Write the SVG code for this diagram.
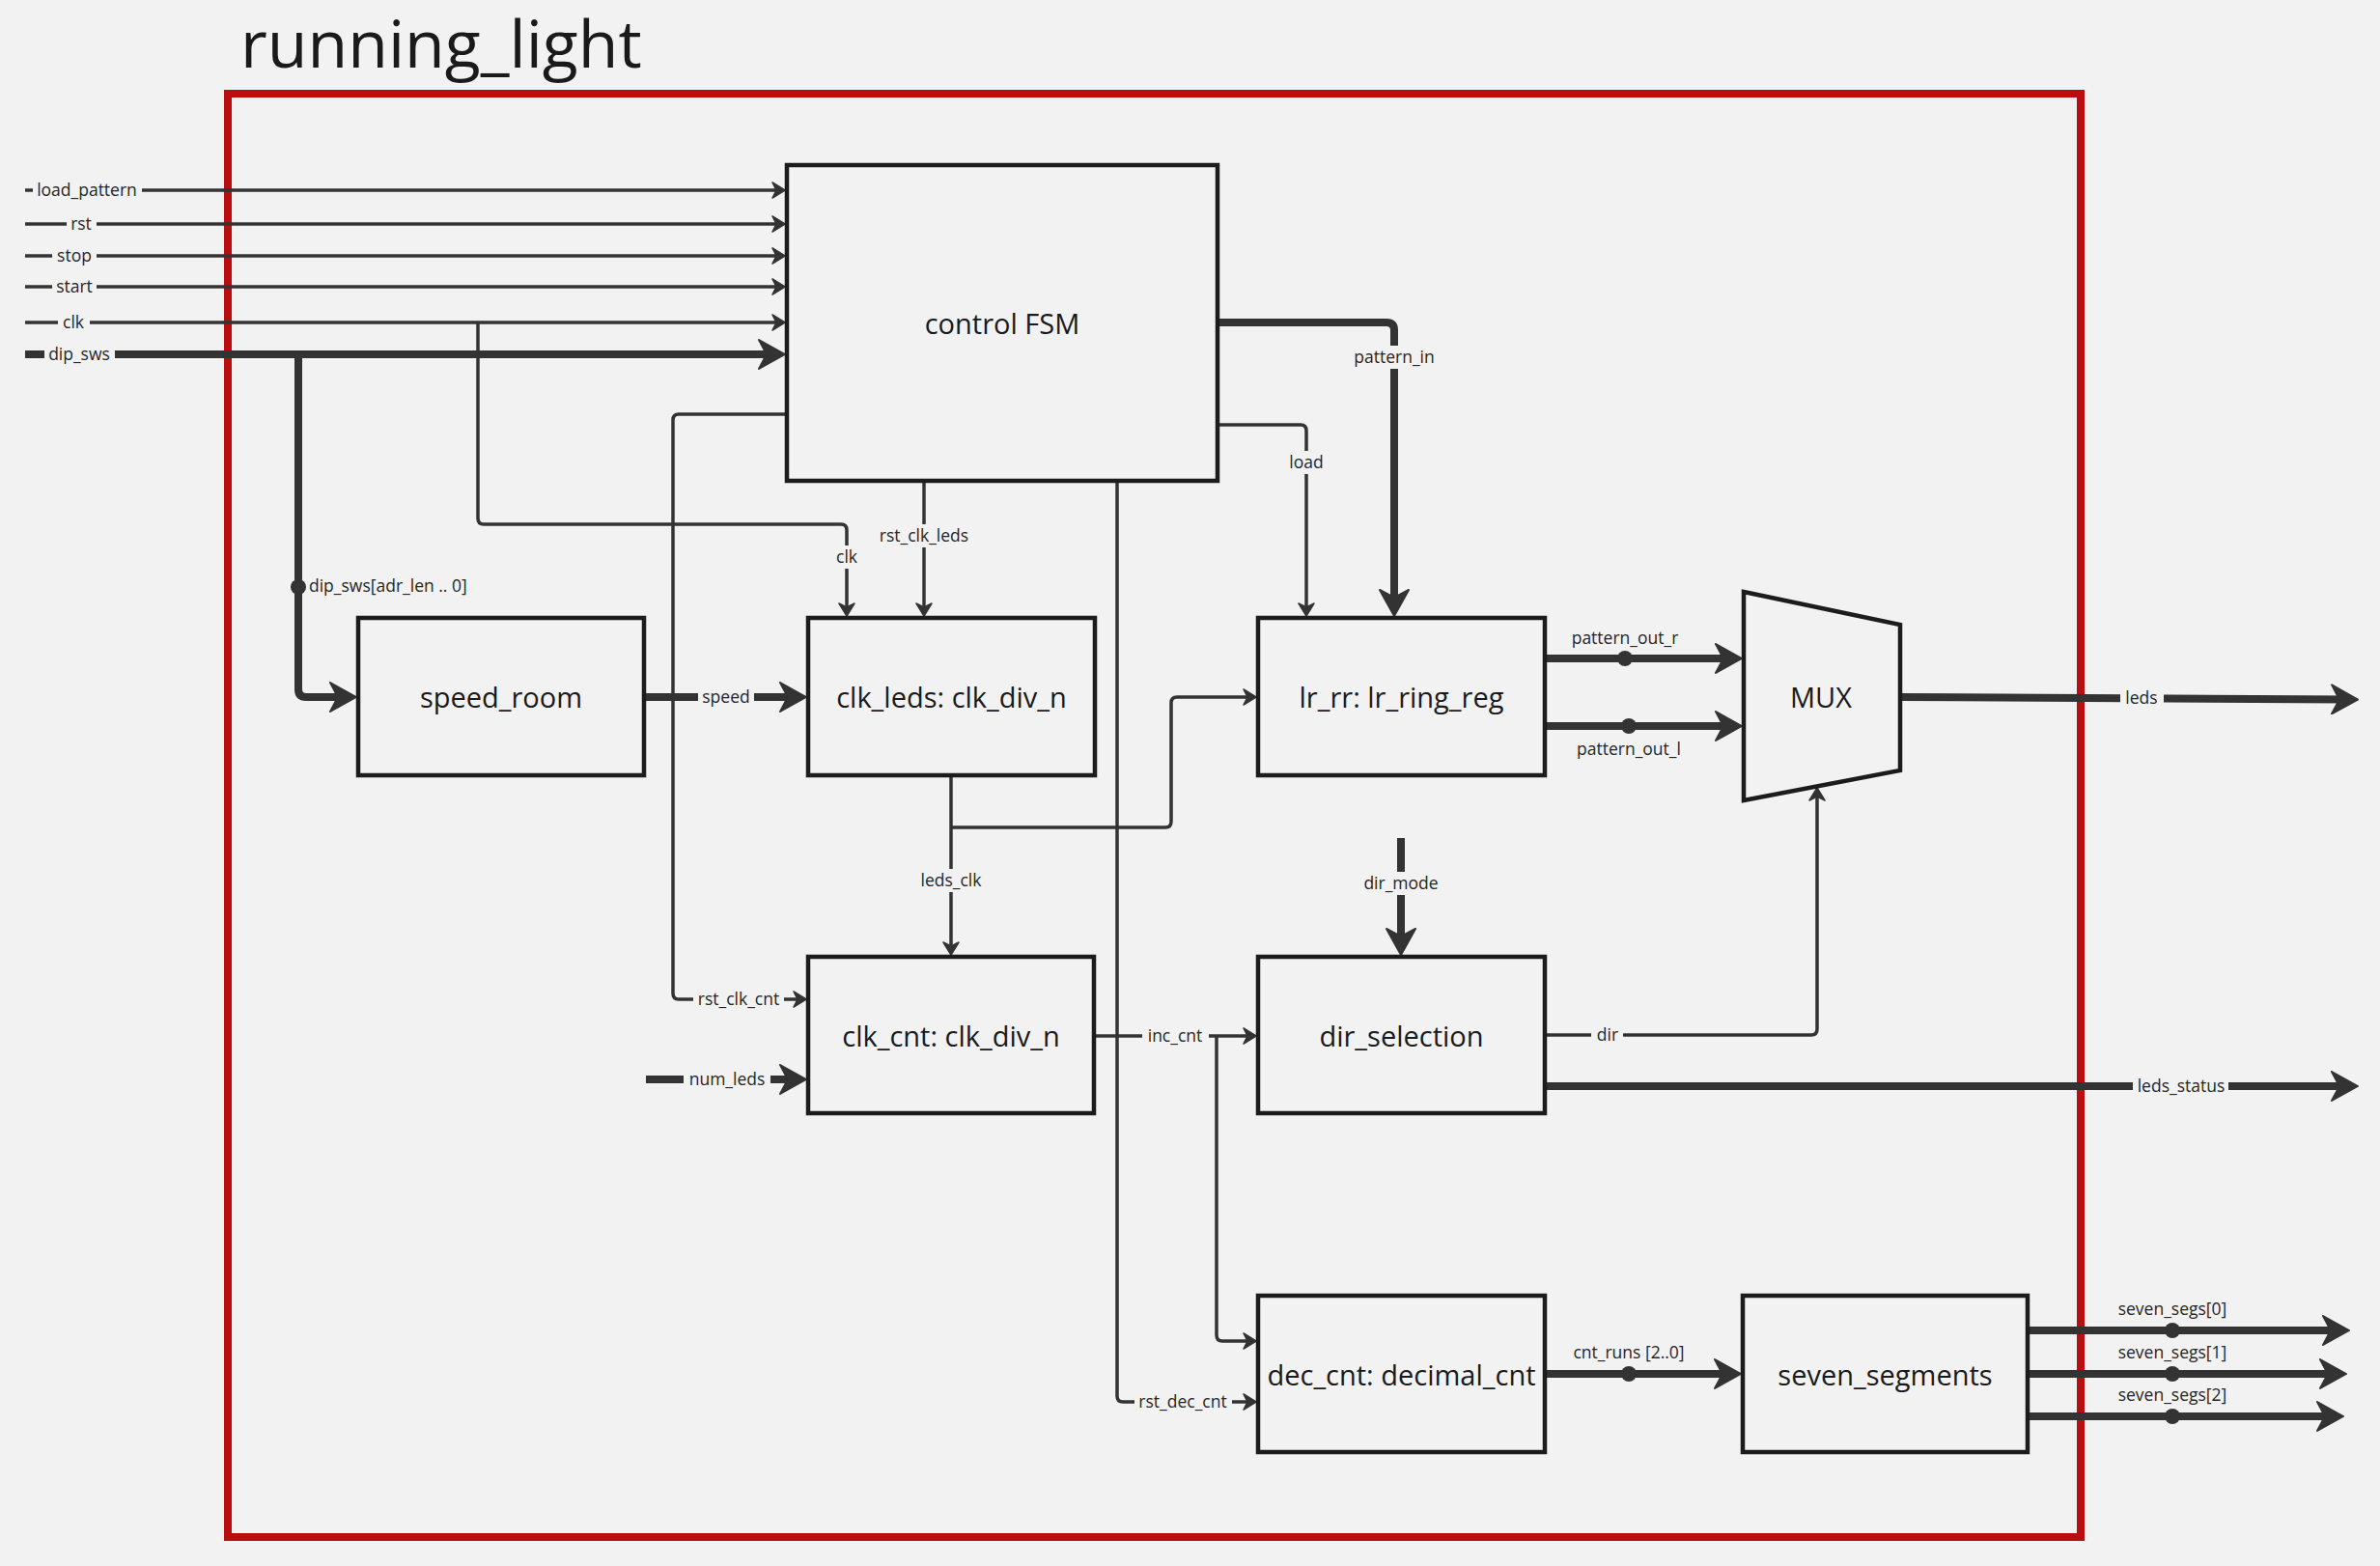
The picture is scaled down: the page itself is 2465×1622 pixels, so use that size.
<svg xmlns="http://www.w3.org/2000/svg" width="2465" height="1622" viewBox="0 0 2465 1622">
<style>
.bg{fill:#F2F2F2}
.box{fill:#F2F2F2;stroke:#1C1C1C;stroke-width:4.5}
.thin{fill:none;stroke:#333333;stroke-width:3.5;stroke-linejoin:round}
.thick{fill:none;stroke:#333333;stroke-width:8;stroke-linejoin:round}
.gap{fill:#F2F2F2}
.dot{fill:#333333}
.name{font-family:"Open Sans","Noto Sans",sans-serif;font-size:29px;fill:#1A1A1A;text-anchor:middle}
.lbl{font-family:"Open Sans","Noto Sans",sans-serif;font-size:17.5px;fill:#262626;text-anchor:middle}
.title{font-family:"Open Sans","Noto Sans",sans-serif;font-size:68px;fill:#1A1A1A}
</style>
<defs>
<marker id="ah" markerUnits="userSpaceOnUse" viewBox="-1 -9 16 18" refX="8" refY="0" markerWidth="16" markerHeight="18" orient="auto">
<path d="M0,-8 L13,0 L0,8 L4,0 Z" fill="#333333" stroke="#333333" stroke-width="1.5" stroke-linejoin="round"/>
</marker>
<marker id="ahb" markerUnits="userSpaceOnUse" viewBox="-1 -16 30 32" refX="17" refY="0" markerWidth="30" markerHeight="32" orient="auto">
<path d="M0,-15 L27,0 L0,15 L8,0 Z" fill="#333333" stroke="#333333" stroke-width="2" stroke-linejoin="round"/>
</marker>
</defs>
<rect class="bg" x="0" y="0" width="2465" height="1622"/>
<text class="title" x="249" y="70">running_light</text>
<rect id="frame" x="236" y="97" width="1919" height="1495" fill="none" stroke="#B90D10" stroke-width="8"/>

<g id="connectors">
  <path class="thin" d="M26,197 H808" marker-end="url(#ah)"/>
  <path class="thin" d="M26,232 H808" marker-end="url(#ah)"/>
  <path class="thin" d="M26,265 H808" marker-end="url(#ah)"/>
  <path class="thin" d="M26,297 H808" marker-end="url(#ah)"/>
  <path class="thin" d="M26,334 H808" marker-end="url(#ah)"/>
  <path class="thick" d="M26,367 H803" marker-end="url(#ahb)"/>
  <path class="thin" d="M495,334 V537 Q495,543 501,543 H871 Q877,543 877,549 V633" marker-end="url(#ah)"/>
  <path class="thick" d="M309,367 V714 Q309,722 317,722 H359" marker-end="url(#ahb)"/>
  <path class="thick" d="M1261,334 H1436 Q1444,334 1444,342 V628" marker-end="url(#ahb)"/>
  <path class="thin" d="M1261,440 H1347 Q1353,440 1353,446 V633" marker-end="url(#ah)"/>
  <path class="thin" d="M957,498 V633" marker-end="url(#ah)"/>
  <path class="thin" d="M1157,498 V1446 Q1157,1452 1163,1452 H1296" marker-end="url(#ah)"/>
  <path class="thin" d="M815,429 H703 Q697,429 697,435 V1029 Q697,1035 703,1035 H830" marker-end="url(#ah)"/>
  <path class="thick" d="M667,722 H825" marker-end="url(#ahb)"/>
  <path class="thin" d="M985,803 V984" marker-end="url(#ah)"/>
  <path class="thin" d="M985,857 H1207 Q1213,857 1213,851 V728 Q1213,722 1219,722 H1296" marker-end="url(#ah)"/>
  <path class="thick" d="M669,1118 H825" marker-end="url(#ahb)"/>
  <path class="thin" d="M1133,1073 H1296" marker-end="url(#ah)"/>
  <path class="thin" d="M1260,1073 V1383 Q1260,1389 1266,1389 H1296" marker-end="url(#ah)"/>
  <path class="thick" d="M1451,868 V979" marker-end="url(#ahb)"/>
  <path class="thin" d="M1600,1072 H1876 Q1882,1072 1882,1066 V821" marker-end="url(#ah)"/>
  <path class="thick" d="M1600,682 H1794" marker-end="url(#ahb)"/>
  <path class="thick" d="M1600,752 H1794" marker-end="url(#ahb)"/>
  <path class="thick" d="M1968,722 L2432,724.5" marker-end="url(#ahb)"/>
  <path class="thick" d="M1600,1125 H2432" marker-end="url(#ahb)"/>
  <path class="thick" d="M1600,1423 H1793" marker-end="url(#ahb)"/>
  <path class="thick" d="M2100,1378 H2423" marker-end="url(#ahb)"/>
  <path class="thick" d="M2100,1423 H2420" marker-end="url(#ahb)"/>
  <path class="thick" d="M2100,1467 H2417" marker-end="url(#ahb)"/>

  <circle class="dot" cx="309" cy="608" r="8"/>
  <circle class="dot" cx="1683" cy="682" r="8"/>
  <circle class="dot" cx="1687" cy="752" r="8"/>
  <circle class="dot" cx="1687" cy="1423" r="8"/>
  <circle class="dot" cx="2250" cy="1378" r="8"/>
  <circle class="dot" cx="2250" cy="1423" r="8"/>
  <circle class="dot" cx="2250" cy="1467" r="8"/>

  <rect class="gap" x="34" y="185" width="113" height="24"/>
  <rect class="gap" x="69" y="220" width="31" height="24"/>
  <rect class="gap" x="54" y="253" width="46" height="24"/>
  <rect class="gap" x="54" y="285" width="46" height="24"/>
  <rect class="gap" x="60" y="322" width="33" height="24"/>
  <rect class="gap" x="46" y="355" width="73" height="24"/>
  <rect class="gap" x="723" y="710" width="58" height="24"/>
  <rect class="gap" x="718" y="1023" width="94" height="24"/>
  <rect class="gap" x="708" y="1106" width="90" height="24"/>
  <rect class="gap" x="1183" y="1061" width="69" height="24"/>
  <rect class="gap" x="1175" y="1440" width="101" height="24"/>
  <rect class="gap" x="1648" y="1060" width="33" height="24"/>
  <rect class="gap" x="2209" y="1113" width="99" height="24"/>
  <rect class="gap" x="2196" y="711" width="45" height="24"/>
  <rect class="gap" x="862" y="565" width="30" height="24"/>
  <rect class="gap" x="908" y="543" width="98" height="24"/>
  <rect class="gap" x="1400" y="358" width="88" height="24"/>
  <rect class="gap" x="1333" y="467" width="40" height="24"/>
  <rect class="gap" x="951" y="900" width="68" height="24"/>
  <rect class="gap" x="1410" y="903" width="82" height="24"/>

  <text class="lbl" x="90" y="203">load_pattern</text>
  <text class="lbl" x="84" y="238">rst</text>
  <text class="lbl" x="77" y="271">stop</text>
  <text class="lbl" x="77" y="303">start</text>
  <text class="lbl" x="76" y="340">clk</text>
  <text class="lbl" x="82" y="373">dip_sws</text>
  <text class="lbl" x="320" y="613" style="text-anchor:start">dip_sws[adr_len .. 0]</text>
  <text class="lbl" x="752" y="728">speed</text>
  <text class="lbl" x="765" y="1041">rst_clk_cnt</text>
  <text class="lbl" x="753" y="1124">num_leds</text>
  <text class="lbl" x="1217" y="1079">inc_cnt</text>
  <text class="lbl" x="1225" y="1458">rst_dec_cnt</text>
  <text class="lbl" x="1665" y="1078">dir</text>
  <text class="lbl" x="2259" y="1131">leds_status</text>
  <text class="lbl" x="2218" y="729">leds</text>
  <text class="lbl" x="877" y="583">clk</text>
  <text class="lbl" x="957" y="561">rst_clk_leds</text>
  <text class="lbl" x="1444" y="376">pattern_in</text>
  <text class="lbl" x="1353" y="485">load</text>
  <text class="lbl" x="985" y="918">leds_clk</text>
  <text class="lbl" x="1451" y="921">dir_mode</text>
  <text class="lbl" x="1683" y="667">pattern_out_r</text>
  <text class="lbl" x="1687" y="782">pattern_out_l</text>
  <text class="lbl" x="1687" y="1407">cnt_runs [2..0]</text>
  <text class="lbl" x="2250" y="1362">seven_segs[0]</text>
  <text class="lbl" x="2250" y="1407">seven_segs[1]</text>
  <text class="lbl" x="2250" y="1451">seven_segs[2]</text>
</g>

<g id="control_fsm">
  <rect class="box" x="815" y="171" width="446" height="327"/>
  <text class="name" x="1038" y="346">control FSM</text>
</g>
<g id="speed_room">
  <rect class="box" x="371" y="640" width="296" height="163"/>
  <text class="name" x="519" y="733">speed_room</text>
</g>
<g id="clk_leds">
  <rect class="box" x="837" y="640" width="297" height="163"/>
  <text class="name" x="985.5" y="733">clk_leds: clk_div_n</text>
</g>
<g id="lr_rr">
  <rect class="box" x="1303" y="640" width="297" height="163"/>
  <text class="name" x="1451.5" y="733">lr_rr: lr_ring_reg</text>
</g>
<g id="mux">
  <polygon class="box" points="1806,613 1968,647 1968,798 1806,829"/>
  <text class="name" x="1886" y="733">MUX</text>
</g>
<g id="clk_cnt">
  <rect class="box" x="837" y="991" width="296" height="162"/>
  <text class="name" x="985" y="1084">clk_cnt: clk_div_n</text>
</g>
<g id="dir_selection">
  <rect class="box" x="1303" y="991" width="297" height="162"/>
  <text class="name" x="1451.5" y="1084">dir_selection</text>
</g>
<g id="dec_cnt">
  <rect class="box" x="1303" y="1342" width="297" height="162"/>
  <text class="name" x="1451.5" y="1435">dec_cnt: decimal_cnt</text>
</g>
<g id="seven_segments">
  <rect class="box" x="1805" y="1342" width="295" height="162"/>
  <text class="name" x="1952.5" y="1435">seven_segments</text>
</g>
</svg>
